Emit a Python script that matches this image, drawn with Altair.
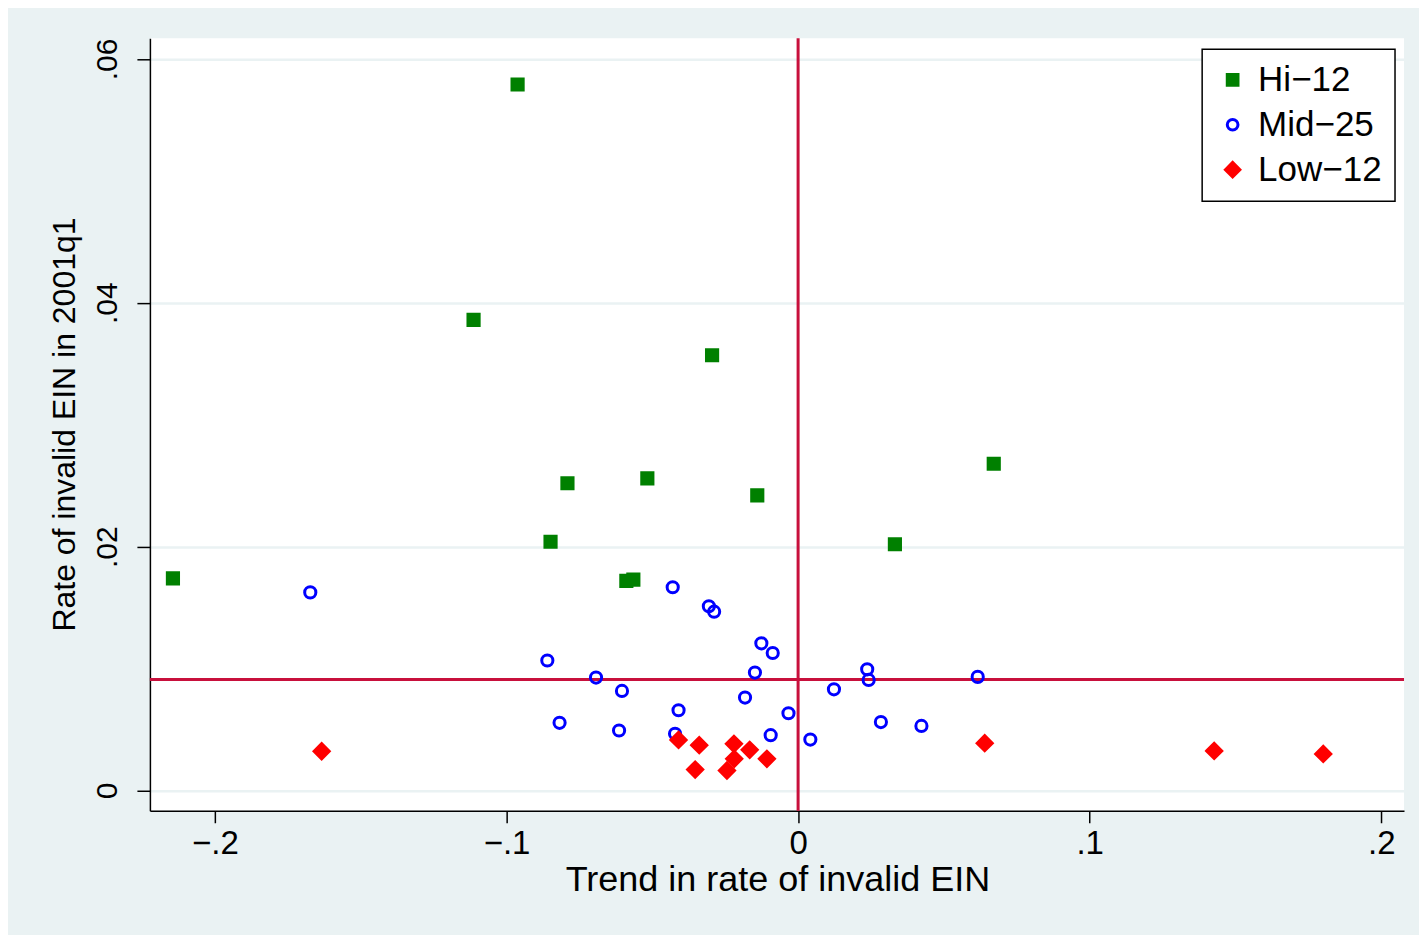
import json
import altair as alt
import pandas as pd

# ---- data ----
groups = ["Hi\u221212", "Mid\u221225", "Low\u221212"]

hi_x = [-0.0962, -0.1113, -0.0295, 0.0671, -0.0791, -0.0517, -0.0140, -0.0849, 0.0332, -0.2144, -0.0589, -0.0565]
hi_y = [0.0579, 0.0386, 0.0357, 0.0268, 0.0252, 0.0256, 0.0242, 0.0204, 0.0202, 0.0174, 0.0172, 0.0173]

mid_x = [-0.1673, -0.0860, -0.0693, -0.0604, -0.0818, -0.0614, -0.0430, -0.0306, -0.0288, -0.0126,
         -0.0087, -0.0148, -0.0182, -0.0410, -0.0033, -0.0422, -0.0094, 0.0042, 0.0123, 0.0237,
         0.0242, 0.0284, 0.0423, 0.0616]
mid_y = [0.01625, 0.01066, 0.00926, 0.00817, 0.00555, 0.00492, 0.01667, 0.01511, 0.01467, 0.01207,
         0.01128, 0.00967, 0.00762, 0.00658, 0.00634, 0.00465, 0.00454, 0.00418, 0.00830, 0.00994,
         0.00907, 0.00561, 0.00530, 0.00932]

low_x = [-0.1634, -0.0410, -0.0339, -0.0220, -0.0166, -0.0219, -0.0107, -0.0353, -0.0244, 0.0640, 0.1427, 0.1801]
low_y = [0.00322, 0.00415, 0.00372, 0.00383, 0.00334, 0.00260, 0.00260, 0.00172, 0.00164, 0.00388, 0.00325, 0.00300]

ref_x = [0.0]
ref_y = [0.0091]

x_tick_values = [-0.2, -0.1, 0.0, 0.1, 0.2]
x_tick_labels = ["\u2212.2", "\u2212.1", "0", ".1", ".2"]
y_tick_values = [0.0, 0.02, 0.04, 0.06]
y_tick_labels = ["0", ".02", ".04", ".06"]

x_domain = [-0.2223, 0.2078]
y_domain = [-0.00166, 0.06169]

# ---- build table ----
rows = []
for g, xs, ys in zip(groups, [hi_x, mid_x, low_x], [hi_y, mid_y, low_y]):
    for x, y in zip(xs, ys):
        rows.append({"group": g, "x": x, "y": y})
df = pd.DataFrame(rows)


def label_expr(values, labels):
    v = json.dumps(values)
    l = json.dumps(labels, ensure_ascii=False)
    return f"indexof({v}, datum.value) >= 0 ? {l}[indexof({v}, datum.value)] : ''"


FONT = "Liberation Sans"
x_scale = alt.Scale(domain=x_domain, nice=False, zero=False)
y_scale = alt.Scale(domain=y_domain, nice=False, zero=False)

x_axis = alt.Axis(
    values=x_tick_values, labelExpr=label_expr(x_tick_values, x_tick_labels),
    title="Trend in rate of invalid EIN", grid=False,
    domainColor="black", domainWidth=1.5, tickColor="black", tickWidth=1.5, tickSize=12,
    labelFont=FONT, labelFontSize=33, labelColor="black", labelPadding=5,
    labelFlush=False, labelOverlap=False,
    titleFont=FONT, titleFontSize=36, titleFontWeight="normal", titleColor="black",
    titleX=628, titleY=80, titleBaseline="alphabetic", titleAlign="center",
)
y_axis = alt.Axis(
    values=y_tick_values, labelExpr=label_expr(y_tick_values, y_tick_labels),
    title="Rate of invalid EIN in 2001q1", grid=True, gridColor="#EAF2F3", gridWidth=2.5,
    domainColor="black", domainWidth=1.5, tickColor="black", tickWidth=1.5, tickSize=13,
    labelFont=FONT, labelFontSize=30, labelColor="black", labelPadding=20,
    labelAngle=270, labelAlign="center", labelBaseline="alphabetic",
    labelFlush=False, labelOverlap=False,
    titleFont=FONT, titleFontSize=32, titleFontWeight="normal", titleColor="black",
    titleAngle=270, titleX=-75, titleY=386, titleAlign="center", titleBaseline="alphabetic",
)

LINE = "#C8103C"
DIAMOND = "M-1.35,0L0,-1.35L1.35,0L0,1.35Z"

vline = alt.Chart(pd.DataFrame({"x": ref_x})).mark_rule(color=LINE, strokeWidth=3).encode(
    x=alt.X("x:Q", scale=x_scale, axis=x_axis)
)
hline = alt.Chart(pd.DataFrame({"y": ref_y})).mark_rule(color=LINE, strokeWidth=3).encode(
    y=alt.Y("y:Q", scale=y_scale, axis=y_axis)
)

points = alt.Chart(df).mark_point(opacity=1, strokeWidth=3, size=125).encode(
    x=alt.X("x:Q", scale=x_scale, axis=x_axis),
    y=alt.Y("y:Q", scale=y_scale, axis=y_axis),
    shape=alt.Shape("group:N", title=None,
                    scale=alt.Scale(domain=groups, range=["square", "circle", DIAMOND])),
    fill=alt.Fill("group:N", title=None,
                  scale=alt.Scale(domain=groups, range=["#008000", "transparent", "#FF0000"])),
    stroke=alt.Stroke("group:N", title=None,
                      scale=alt.Scale(domain=groups, range=["#008000", "#0000FF", "#FF0000"])),
)

chart = alt.layer(vline, hline, points).properties(
    width=1255, height=773,
    background="#EAF2F3",
    padding={"left": 142, "top": 30, "right": 15, "bottom": 124},
    autosize=alt.AutoSizeParams(type="none"),
).configure_view(
    fill="white", strokeWidth=0
).configure_legend(
    orient="none", legendX=1053, legendY=11,
    labelFont=FONT, labelFontSize=35, labelColor="black",
    padding=13, rowPadding=9, labelOffset=8,
    strokeColor="black", strokeWidth=1.5, fillColor="white",
    symbolStrokeWidth=3, symbolSize=115,
)

chart.save("out.html", embed_options={"renderer": "svg", "actions": False})
